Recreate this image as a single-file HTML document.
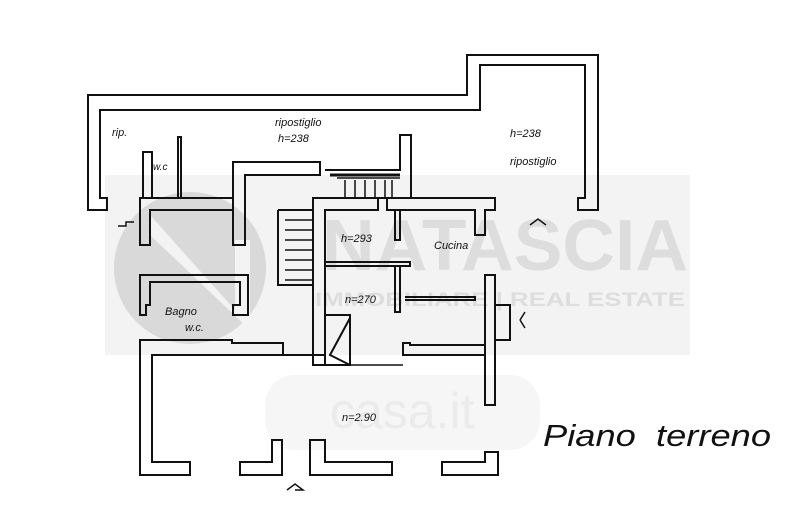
<!DOCTYPE html>
<html><head><meta charset="utf-8"><style>
html,body{margin:0;padding:0;background:#fff;width:800px;height:530px;overflow:hidden}
svg{display:block}
.l{font-family:"Liberation Sans",sans-serif;font-style:italic;fill:#111}
.w{font-family:"Liberation Sans",sans-serif;font-weight:bold}
</style></head><body>
<svg width="800" height="530" viewBox="0 0 800 530" xmlns="http://www.w3.org/2000/svg">
<rect x="105" y="175" width="585" height="180" fill="#f3f3f3"/>
<circle cx="190" cy="268" r="76" fill="#d9d9d9"/>
<path d="M150 215 L235 310 L235 240 L250 240 L250 330 L150 235 Z" fill="#f3f3f3"/>
<text class="w" x="322" y="270" font-size="72" style="fill:#dddddd" textLength="366" lengthAdjust="spacingAndGlyphs">NATASCIA</text>
<text class="w" x="315" y="306" font-size="19" style="fill:#dddddd" textLength="370" lengthAdjust="spacingAndGlyphs">IMMOBILIARE | REAL ESTATE</text>
<rect x="265" y="375" width="275" height="75" rx="30" fill="#f6f6f6"/>
<text x="330" y="428" font-size="50" style="font-family:'Liberation Sans',sans-serif;fill:#ebebeb">casa.it</text>
<g fill="none" stroke="#111" stroke-width="2">
<path d="M88 210 L88 95 L467 95 L467 55 L598 55 L598 210 L578 210 L578 198 L585 198 L585 65 L480 65 L480 110 L100 110 L100 198 L107 198 L107 210 Z"/>
<path d="M140 245 L140 198 L233 198 L233 210 L150 210 L150 245 Z"/>
<path d="M143 198 L143 152 L152 152 L152 198"/>
<path d="M178 198 L178 137 L181 137 L181 198"/>
<path d="M233 245 L233 162 L320 162 L320 175 L245 175 L245 245 Z"/>
<path d="M325 170 L400 170 L400 135 L411 135 L411 198 L325 198"/>
<path d="M313 365 L313 198 L378 198 L378 210 L325 210 L325 365 Z"/>
<path d="M387 198 L495 198 L495 210 L485 210 L485 235 L475 235 L475 210 L387 210 Z"/>
<path d="M278 210 L313 210 M278 210 L278 285 L313 285"/>
<path d="M325 262 L410 262 L410 266 L325 266"/>
<path d="M395 210 L395 240 L400 240 L400 210"/>
<path d="M395 266 L395 312 L400 312 L400 266"/>
<path d="M405 297 L475 297 L475 300 L405 300"/>
<path d="M485 275 L495 275 L495 405 L485 405 Z"/>
<rect x="495" y="305" width="15" height="35"/>
<path d="M403 355 L403 343 L410 343 L410 345 L485 345 L485 355 Z"/>
<path d="M140 315 L140 275 L248 275 L248 315 L233 315 L233 305 L240 305 L240 282 L150 282 L150 305 L146 305 L146 315 Z"/>
<path d="M140 475 L140 340 L232 340 L232 343 L283 343 L283 355 L152 355 L152 462 L190 462 L190 475 Z"/>
<path d="M240 475 L240 462 L272 462 L272 440 L282 440 L282 475 Z"/>
<path d="M310 475 L310 440 L325 440 L325 462 L392 462 L392 475 Z"/>
<path d="M442 475 L442 462 L485 462 L485 452 L498 452 L498 475 Z"/>
<path d="M325 315 L350 315 L350 365 L325 365 M350 318 L330 355 L350 365"/>
<path d="M325 355 L283 355"/>
</g>
<g stroke="#111" stroke-width="1.5">
<path d="M285 220 H313 M285 230 H313 M285 240 H313 M285 250 H313 M285 260 H313 M285 270 H313 M285 280 H313"/>
<path d="M337 178 H400 M345 180 V198 M355 180 V198 M365 180 V198 M375 180 V198 M385 180 V198 M392 180 V198"/>
<path d="M330 175 H400" stroke-width="3"/>
<path d="M350 365 H403"/>
</g>
<g stroke="#111" stroke-width="1.5" fill="none">
<path d="M118 226 h8 v-4 h8 M287 490 l8 -6 l8 6 l-8 0 M530 225 l8 -6 l8 6 M520 320 l5 -8 M520 320 l5 8"/>
</g>
<text class="l" x="275" y="126" font-size="11">ripostiglio</text>
<text class="l" x="278" y="142" font-size="11">h=238</text>
<text class="l" x="112" y="136" font-size="11">rip.</text>
<text class="l" x="510" y="137" font-size="11">h=238</text>
<text class="l" x="510" y="165" font-size="11">ripostiglio</text>
<text class="l" x="153" y="170" font-size="10">w.c</text>
<text class="l" x="341" y="242" font-size="11">h=293</text>
<text class="l" x="434" y="249" font-size="11">Cucina</text>
<text class="l" x="345" y="303" font-size="11">n=270</text>
<text class="l" x="165" y="315" font-size="11">Bagno</text>
<text class="l" x="185" y="331" font-size="11">w.c.</text>
<text class="l" x="342" y="421" font-size="11">n=2.90</text>
<text class="l" x="543" y="446" font-size="31" textLength="228" lengthAdjust="spacingAndGlyphs" xml:space="preserve">Piano  terreno</text>
</svg>
</body></html>
